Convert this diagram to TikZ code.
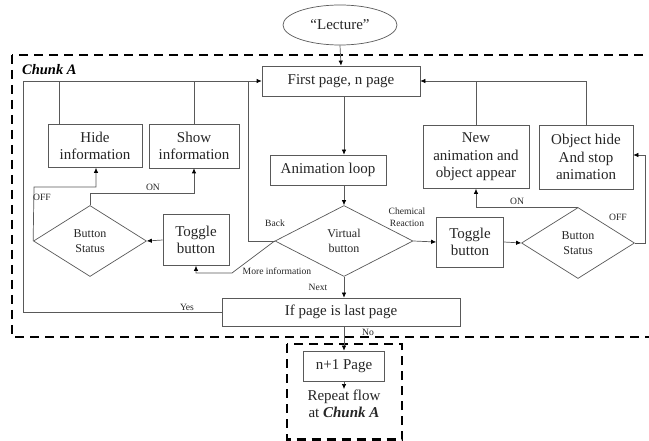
\documentclass[tikz,border=0pt]{standalone}
\usepackage{fontspec}
\setmainfont{Liberation Serif}
\usetikzlibrary{shapes.geometric,arrows.meta,calc}
\begin{document}
\begin{tikzpicture}[x=1pt,y=-1pt,
  line/.style={draw=black!65, line width=0.7pt},
  arr/.style={line, -{Latex[length=5pt,width=4.5pt,color=black]}},
  box/.style={line, rectangle, inner sep=2pt, align=center, font=\fontsize{15}{17.5}\selectfont, text=black!85},
  dia/.style={line, diamond, inner sep=0pt, align=center, font=\fontsize{12}{14.5}\selectfont, text=black!85},
  lab/.style={font=\fontsize{9.6}{11.5}\selectfont, text=black!85, inner sep=0pt, align=center},
  chunk/.style={draw=black, line width=2.2pt, dash pattern=on 9pt off 6pt},
]
\useasboundingbox (0,0) rectangle (649,441);
\fill[white] (0,0) rectangle (649,441);

% dashed frames
\draw[chunk] (12,55) rectangle (668,337);
\draw[chunk] (287,344) rectangle (402,439.5);
\node[anchor=west, inner sep=0pt, font=\fontsize{14.5}{16}\selectfont\bfseries\itshape] (chunklab) at (22,70) {Chunk A};

% nodes
\node[line, ellipse, minimum width=114pt, minimum height=40pt, inner sep=0pt, font=\fontsize{15}{17}\selectfont, text=black!85] (lecture) at (340,25) {“Lecture”};
\node[box, minimum width=158pt, minimum height=30pt] (first) at (341,81) {First page, n page};
\node[box, minimum width=116pt, minimum height=30pt] (anim) at (328,170) {Animation loop};
\node[dia, minimum width=138pt, minimum height=71pt] (vb) at (344,241) {Virtual\\button};
\node[box, minimum width=238pt, minimum height=28pt] (ifp) at (341,312) {If page is last page};
\node[box, minimum width=81pt, minimum height=30pt] (np) at (344,366) {n+1 Page};
\node[anchor=north, inner sep=1pt, align=center, font=\fontsize{15}{17}\selectfont, text=black!85] (rep) at (344,389) {Repeat flow\\at \textbf{\textit{Chunk A}}};

\node[box, minimum width=94pt, minimum height=43pt] (hide) at (95,146) {Hide\\information};
\node[box, minimum width=90pt, minimum height=44pt] (show) at (194,146) {Show\\information};
\node[dia, minimum width=113pt, minimum height=71pt] (lbs) at (90,241) {Button\\Status};
\node[box, minimum width=66pt, minimum height=51pt] (ltog) at (196,240) {Toggle\\button};

\node[box, minimum width=67pt, minimum height=50pt] (rtog) at (470,242) {Toggle\\button};
\node[dia, minimum width=113pt, minimum height=71pt] (rbs) at (578,243) {Button\\Status};
\node[box, minimum width=106pt, minimum height=63pt] (newanim) at (476,157) {New\\animation and\\object appear};
\node[box, minimum width=94pt, minimum height=64pt] (objhide) at (586,157) {Object hide\\And stop\\animation};

% coordinates for bends
\coordinate (yl) at (23,81);
\coordinate (backtop) at (248,81);
\coordinate (mi) at (232,273);
\coordinate (offl) at (34,187);
\coordinate (offr) at (645,243);

% main flow
\draw[arr] (lecture.south) -- (first.north);
\draw[arr] (first.south -| vb.north) -- (anim.north -| vb.north);
\draw[arr] (anim.south -| vb.north) -- (vb.north);
\draw[arr] (vb.south) -- (ifp.north -| vb.south);
\draw[arr] (ifp.south -| np.north) -- (np.north);
\draw[arr] (np.south) -- (rep.north);

% left loops
\draw[arr] (ifp.west) -| (yl) -- (first.west);
\draw[line] ([xshift=-36pt]hide.north) -- ([xshift=-36pt]hide.north |- yl);
\draw[line] (show.north) -- (show.north |- yl);
\draw[line] (vb.west) -| (backtop);
\draw[arr] (vb.west) -- (mi) -| (ltog.south);
\draw[arr] (ltog.west) -- (lbs.east);
\draw[arr] (lbs.north) -- ++(0,-12) -| (show.south);
\draw[arr] (lbs.west) -- (offl) -| ([xshift=1pt]hide.south);

% right loops
\draw[arr] (vb.east) -- (rtog.west);
\draw[arr] (rtog.east) -- (rbs.west);
\draw[arr] (rbs.north) -| (newanim.south);
\draw[arr] (rbs.east) -- (offr) |- ([yshift=2pt]objhide.east);
\draw[arr] (objhide.north) |- (first.east);
\draw[line] (newanim.north) -- (newanim.north |- first.east);

% labels
\node[lab] (lnext) at (318,287) {Next};
\node[lab] (lyes) at (187,307) {Yes};
\node[lab] (lno) at (368,332) {No};
\node[lab] (lback) at (275,223) {Back};
\node[lab] (lmore) at (277,271) {More information};
\node[lab] (lchem) at (407,217) {Chemical\\Reaction};
\node[lab] (lonl) at (153,187) {ON};
\node[lab] (loffl) at (42,197) {OFF};
\node[lab] (lonr) at (517,201) {ON};
\node[lab] (loffr) at (618,217) {OFF};
\end{tikzpicture}
\end{document}
